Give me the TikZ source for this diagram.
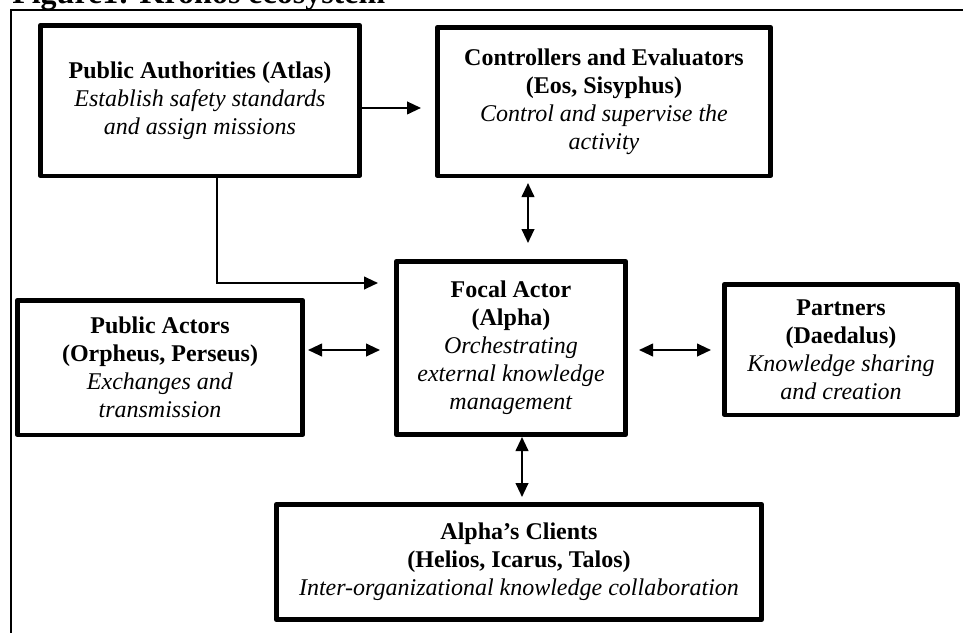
\documentclass[tikz,border=0pt]{standalone}
\usepackage{fontspec}
\setmainfont{Liberation Serif}
\usetikzlibrary{arrows.meta}
\tikzset{tri/.tip={Triangle[length=10.5pt,width=9.5pt]}}
\begin{document}
\begin{tikzpicture}[x=0.75pt,y=-0.75pt,
  box/.style={draw, line width=3.4pt, line join=round, align=center, inner sep=0pt, font=\fontsize{18}{21}\selectfont},
  arr/.style={line width=1.5pt, -tri},
  darr/.style={line width=1.5pt, tri-tri},
  outerframe/.style={line width=1.5pt}]
\useasboundingbox (0,0) rectangle (963,632);
\clip (0,0) rectangle (963,632);
\node[anchor=base west, inner sep=0pt, font=\fontsize{24}{28}\selectfont\bfseries] (title) at (12,3) {Figure1: Kronos ecosystem};
\draw[outerframe] (11,650) -- (11,10) -- (980,10);

\node[box, minimum width=239.6pt, minimum height=112.9pt] (pa) at (200,100.5)
  {\textbf{Public Authorities (Atlas)}\\\textit{Establish safety standards}\\\textit{and assign missions}};
\node[box, minimum width=250.1pt, minimum height=111.4pt] (ctrl) at (604,101.5)
  {\textbf{Controllers and Evaluators}\\\textbf{(Eos, Sisyphus)}\\\textit{Control and supervise the}\\\textit{activity}};
\node[box, minimum width=172.1pt, minimum height=130.1pt] (focal) at (511,348)
  {\textbf{Focal Actor}\\\textbf{(Alpha)}\\\textit{Orchestrating}\\\textit{external knowledge}\\\textit{management}};
\node[box, minimum width=175.1pt, minimum height=97.9pt] (partners) at (841,349.5)
  {\textbf{Partners}\\\textbf{(Daedalus)}\\\textit{Knowledge sharing}\\\textit{and creation}};
\node[box, minimum width=214.1pt, minimum height=100.9pt] (pact) at (160,367.5)
  {\textbf{Public Actors}\\\textbf{(Orpheus, Perseus)}\\\textit{Exchanges and}\\\textit{transmission}};
\node[box, minimum width=364.1pt, minimum height=86.6pt] (clients) at (519,562)
  {\textbf{Alpha’s Clients}\\\textbf{(Helios, Icarus, Talos)}\\\textit{Inter-organizational knowledge collaboration}};

\coordinate (a1) at ([yshift=-5.6pt]pa.east);
\draw[arr, shorten >=10.5pt] (a1) -- (a1 -| ctrl.west);
\coordinate (a2) at ([xshift=12.75pt]pa.south);
\coordinate (b2) at ([yshift=48.75pt]focal.west);
\draw[arr, shorten >=12pt] (a2) |- (b2);
\coordinate (c3) at (528,200);
\draw[darr, shorten <=3.75pt, shorten >=12pt] (ctrl.south -| c3) -- (focal.north -| c3);
\coordinate (c4) at (0,350);
\draw[darr, shorten <=2.25pt, shorten >=10.5pt] (pact.east |- c4) -- (focal.west |- c4);
\draw[darr, shorten <=8.25pt, shorten >=8.25pt] (focal.east |- c4) -- (partners.west |- c4);
\coordinate (c5) at (522,0);
\draw[darr, shorten >=3.75pt] (focal.south -| c5) -- (clients.north -| c5);
\end{tikzpicture}
\end{document}
